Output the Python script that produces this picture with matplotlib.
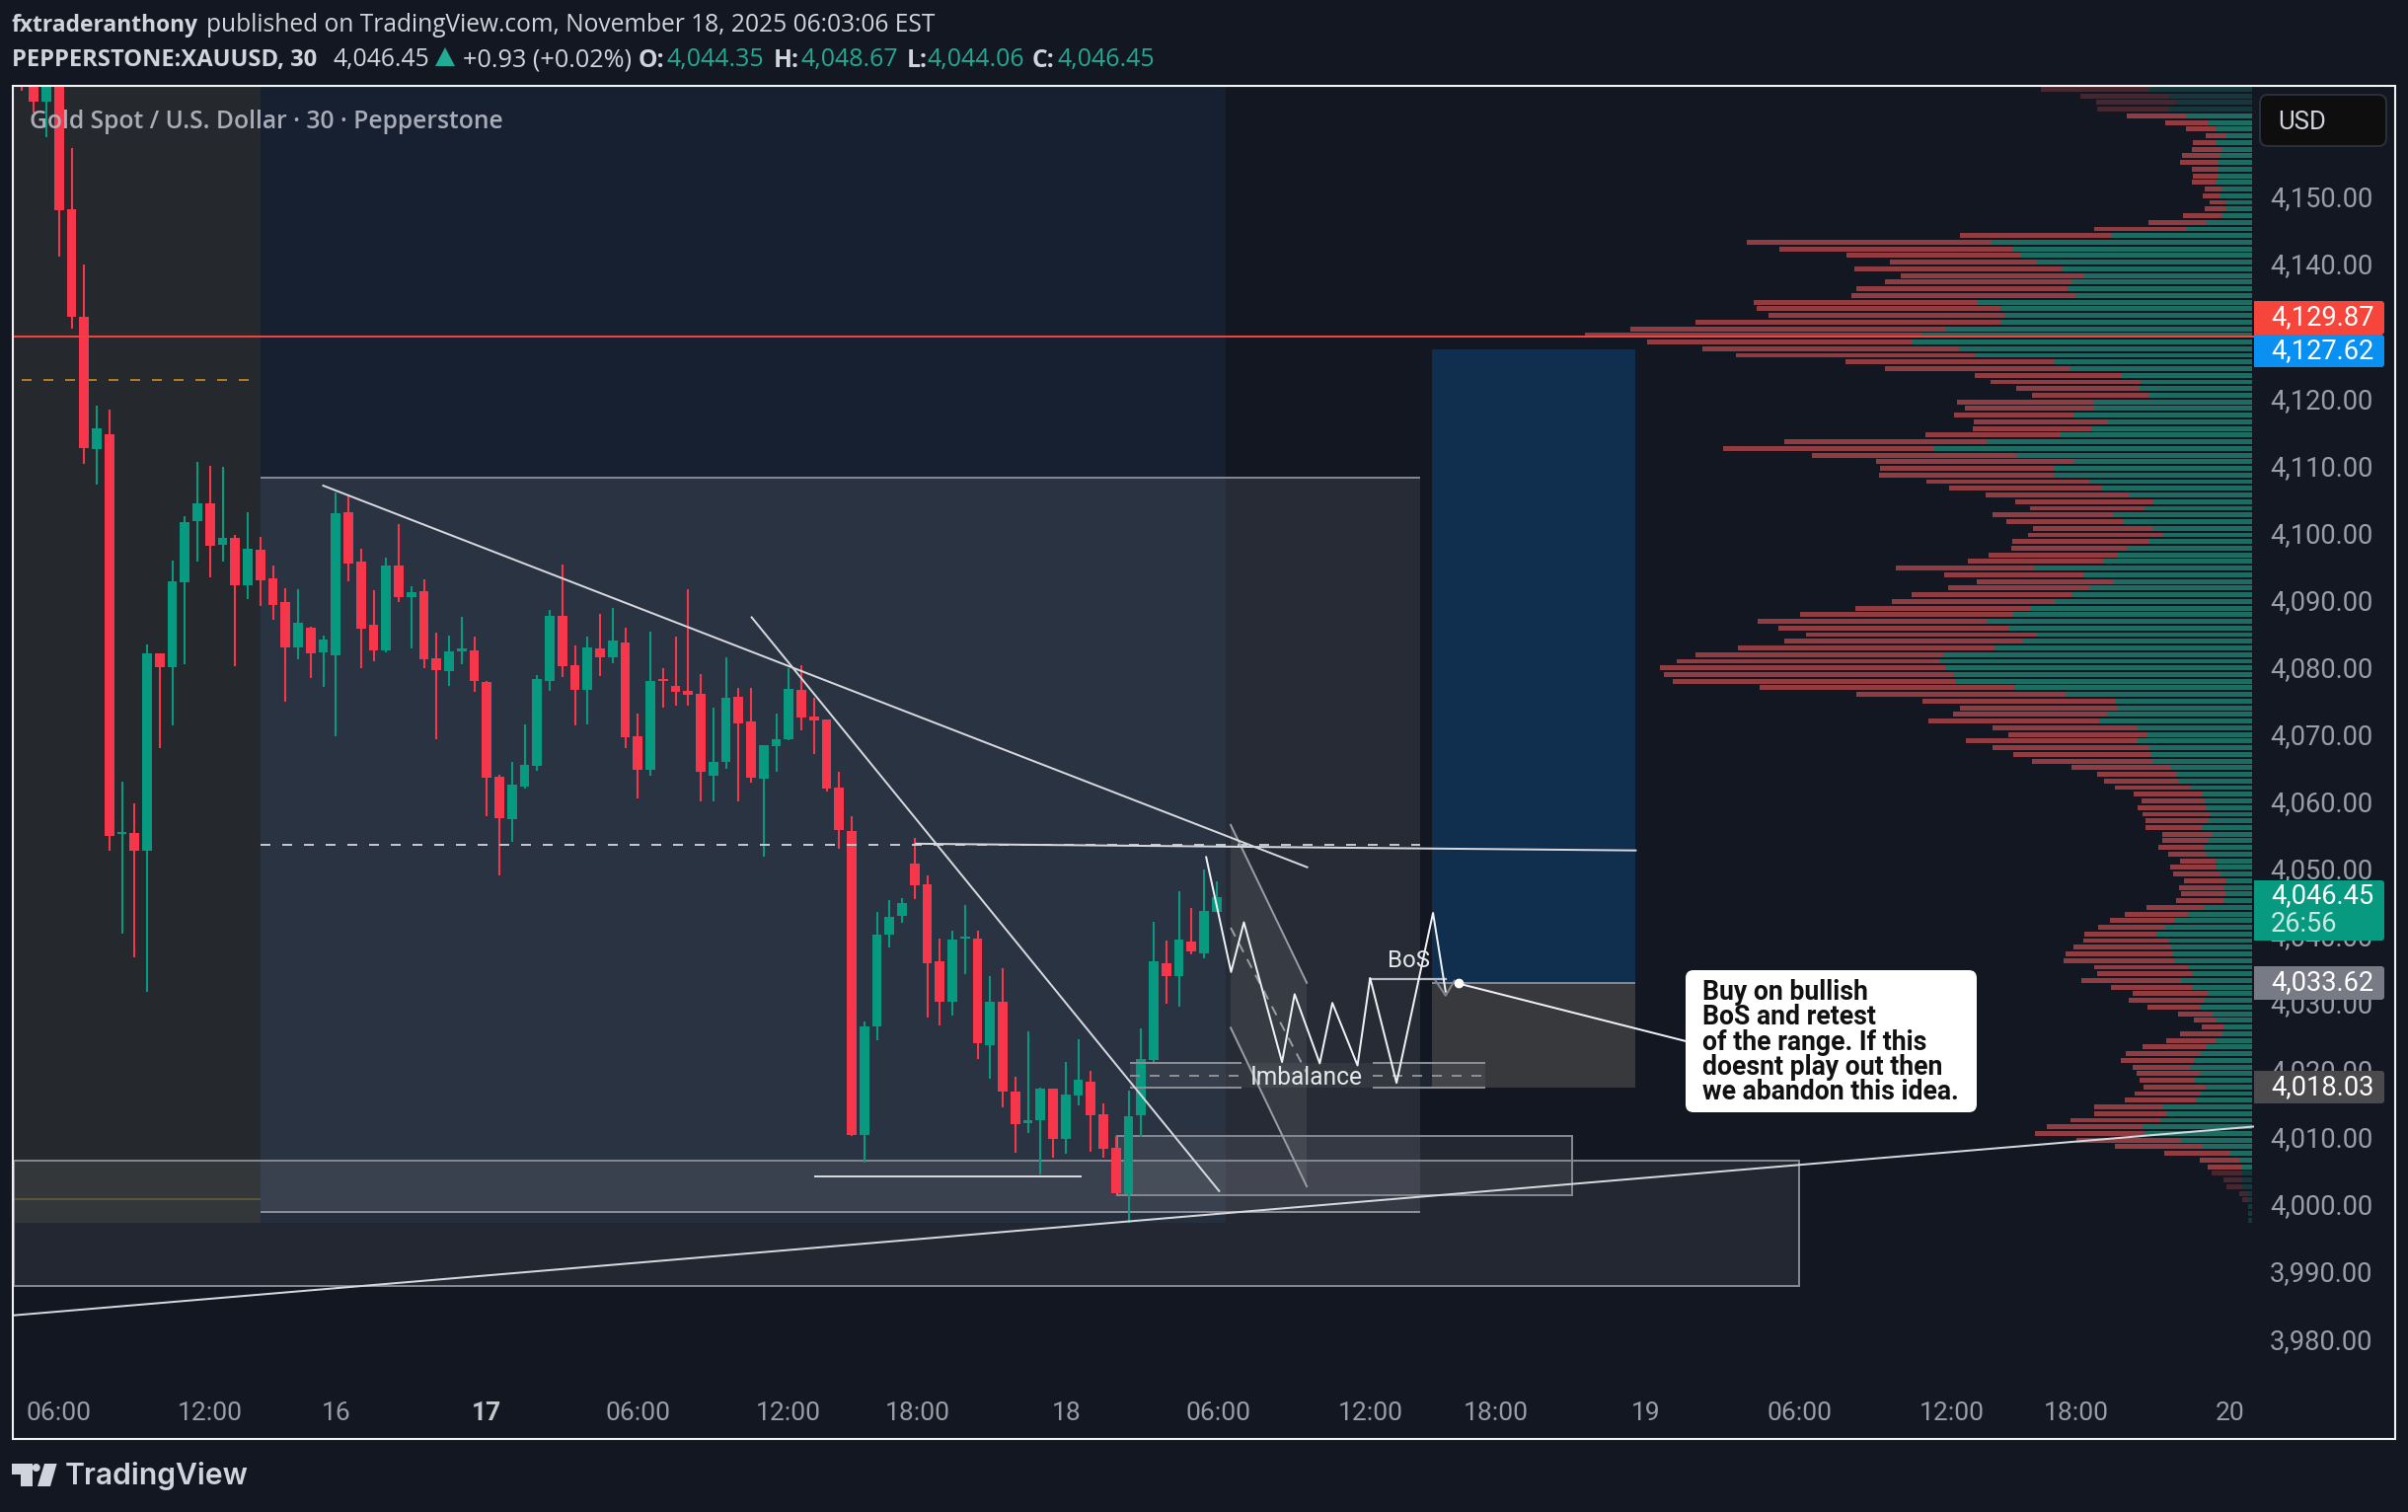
import matplotlib
matplotlib.use('Agg')
import matplotlib.pyplot as plt
from matplotlib.patches import Rectangle, Polygon, Circle, FancyBboxPatch
from matplotlib.transforms import ScaledTranslation
import numpy as np

plt.rcParams['font.family'] = ['Roboto', 'DejaVu Sans']

# 30 min candles, bar index on the x axis (TradingView skips the closed hours)
opens = [4172, 4170, 4164.5, 4170, 4148.5, 4132.4, 4112.7, 4114.9, 4055.4, 4055.6,
         4052.9, 4082.3, 4080.3, 4092.9, 4102, 4104.7, 4098.5, 4099.5, 4092.5, 4097.7,
         4093.5, 4090, 4083.2, 4086.1, 4082.5, 4082.1, 4103.4, 4096, 4086.6, 4082.8,
         4095.4, 4090.7, 4091.6, 4081.6, 4079.7, 4082.7, 4082.8, 4078.1, 4063.9, 4057.7,
         4062.5, 4065.6, 4078.2, 4087.9, 4080.6, 4076.9, 4083, 4081.8, 4083.9, 4070,
         4065, 4078.3, 4077.5, 4076.7, 4076.3, 4064.1, 4066.2, 4075.9, 4072.2, 4063.7,
         4068.5, 4069.6, 4076.9, 4073, 4072.5, 4062.3, 4055.9, 4010.6, 4026.8, 4040.5,
         4043.3, 4051, 4047.9, 4036.5, 4030.5, 4039.9, 4039.9, 4024, 4030.5, 4017.1,
         4012.4, 4012.9, 4017.6, 4010, 4016.5, 4018.6, 4013.7, 4008.7, 4001.8, 4013.6,
         4021.8, 4036.2, 4034.3, 4039.4, 4037.7, 4043.8]
highs = [4175, 4172, 4172, 4173, 4157.6, 4140.2, 4119.2, 4118.6, 4063.2, 4060,
         4083.7, 4082.3, 4096.2, 4102.8, 4110.8, 4110.2, 4110.1, 4100, 4103.4, 4099.7,
         4095.4, 4092, 4091.9, 4086.3, 4085, 4106.3, 4105.8, 4097.9, 4091.8, 4096.6,
         4101.6, 4092.3, 4093.3, 4085.4, 4085, 4087.8, 4084.8, 4078.2, 4064.3, 4066.2,
         4071.8, 4079.1, 4088.8, 4095.5, 4083.5, 4084.8, 4088.2, 4089.1, 4086.2, 4073.4,
         4085.6, 4080.1, 4084.9, 4091.9, 4079.2, 4074.2, 4081.8, 4077.2, 4077.2, 4068.7,
         4073.4, 4080.1, 4080.5, 4075.7, 4072.5, 4064.7, 4058.1, 4027.5, 4043.9, 4045.6,
         4045.9, 4054.9, 4049.3, 4039.9, 4041, 4044.9, 4041, 4034.3, 4035.5, 4019.3,
         4026.1, 4017.7, 4017.6, 4021.5, 4024.9, 4020.2, 4015.3, 4010.5, 4017.2, 4026.5,
         4042.4, 4039.6, 4046.9, 4044.5, 4050.2, 4048.4]
lows = [4166.1, 4162.9, 4159.2, 4141.4, 4130.6, 4110.5, 4107.5, 4052.9, 4040.6, 4037.1,
        4032, 4068.3, 4071.6, 4080.7, 4096, 4093.6, 4096, 4080.4, 4090.4, 4089.4,
        4087.3, 4075.1, 4081.5, 4078.6, 4077.3, 4070, 4093.1, 4080.1, 4081.2, 4082.5,
        4090, 4083, 4080.1, 4069.6, 4077.5, 4080.7, 4076.6, 4058.1, 4049.3, 4054.3,
        4062.2, 4064.8, 4076.8, 4078.8, 4071.6, 4071.8, 4078.9, 4080.8, 4068.2, 4060.7,
        4064.1, 4074.2, 4074.6, 4074.6, 4060.3, 4060.3, 4065.1, 4060.3, 4063.1, 4052,
        4064.7, 4069.4, 4070.9, 4067.3, 4061.8, 4053.3, 4010.5, 4006.6, 4024.7, 4038.6,
        4042.2, 4045.8, 4028.1, 4026.9, 4028.4, 4034.6, 4022, 4019, 4014.8, 4008,
        4011, 4004.7, 4007.2, 4007.9, 4015.1, 4008.1, 4007.2, 4002, 3997.5, 4010.3,
        4021.4, 4030.2, 4029.8, 4037.6, 4036.9, 4043.8]
closes = [4170, 4164.5, 4170, 4148.3, 4132.4, 4112.9, 4115.8, 4055.1, 4055.6, 4052.9,
          4082.3, 4080.3, 4093.1, 4101.9, 4104.7, 4098.4, 4099.5, 4092.5, 4097.9, 4093.2,
          4089.6, 4083.2, 4086.9, 4082.3, 4084.4, 4103.2, 4095.7, 4086, 4082.8, 4095.4,
          4090.7, 4091.4, 4081.5, 4079.8, 4082.6, 4083, 4078.2, 4063.8, 4057.8, 4062.8,
          4065.7, 4078.5, 4087.9, 4080.4, 4076.9, 4083.2, 4081.7, 4084.3, 4069.9, 4065,
          4078.2, 4078.2, 4076.6, 4076.1, 4064.7, 4066.2, 4075.7, 4071.9, 4063.8, 4068.7,
          4069.6, 4077, 4072.8, 4072.3, 4062.2, 4056, 4010.6, 4026.8, 4040.5, 4043.1,
          4045.2, 4047.8, 4036.2, 4030.5, 4039.7, 4040.1, 4024.3, 4030.5, 4017.1, 4012.3,
          4012.9, 4017.6, 4010, 4016.7, 4018.8, 4013.6, 4008.6, 4002, 4013.4, 4022,
          4036.5, 4034.3, 4039.7, 4038, 4044, 4046]

# volume profile rows, total length and the buy part, arbitrary units
profile_total = [441, 359, 326, 324, 262, 182, 138, 97, 124, 126, 146, 151, 126, 124, 126, 99, 103, 89, 99, 144,
                 217, 330, 611, 1056, 988, 848, 757, 831, 734, 767, 827, 838, 1042, 1036, 1011, 1164, 1300, 1395, 1265, 1149,
                 1079, 850, 767, 580, 547, 493, 460, 617, 600, 623, 582, 584, 683, 978, 1106, 920, 786, 778, 780, 681,
                 633, 557, 495, 464, 543, 514, 458, 468, 501, 503, 551, 594, 745, 644, 576, 635, 712, 753, 829, 945,
                 1034, 990, 933, 978, 1075, 1164, 1203, 1238, 1230, 1211, 1029, 827, 689, 611, 625, 677, 543, 510, 598, 543,
                 499, 460, 378, 324, 309, 287, 248, 231, 239, 229, 223, 223, 188, 188, 196, 175, 151, 171, 165, 142,
                 153, 149, 159, 221, 266, 297, 322, 351, 353, 373, 390, 394, 330, 324, 357, 295, 250, 258, 219, 155,
                 122, 105, 151, 179, 229, 264, 274, 250, 241, 235, 227, 245, 266, 330, 330, 380, 429, 454, 367, 287,
                 184, 109, 93, 85, 60, 54, 27, 21, 8, 8, 8]
profile_up = [214, 174, 158, 176, 138, 92, 76, 56, 74, 62, 66, 70, 70, 70, 76, 64, 68, 56, 56, 62,
              98, 136, 296, 546, 502, 482, 452, 398, 352, 378, 386, 370, 574, 526, 518, 526, 642, 689, 710, 612,
              580, 414, 382, 272, 234, 236, 216, 332, 330, 372, 302, 336, 402, 556, 664, 490, 374, 414, 414, 340,
              314, 258, 206, 224, 290, 268, 206, 188, 214, 262, 280, 312, 456, 352, 290, 338, 378, 412, 462, 500,
              552, 508, 450, 480, 538, 646, 652, 642, 626, 622, 498, 390, 286, 280, 304, 320, 242, 220, 240, 214,
              212, 206, 172, 156, 154, 130, 104, 99, 94, 88, 90, 104, 84, 90, 100, 94, 76, 74, 68, 56,
              60, 56, 58, 102, 134, 162, 182, 200, 174, 170, 166, 164, 134, 126, 148, 124, 90, 100, 110, 82,
              76, 60, 62, 76, 94, 108, 122, 130, 110, 120, 98, 108, 118, 188, 178, 190, 228, 224, 148, 106,
              48, 26, 20, 20, 20, 20, 8, 8, 8, 8, 8]
profile_top = 4166.3
profile_step = 0.99

price_ticks = list(range(3980, 4151, 10))
time_ticks = [3, 15, 25, 37, 49, 61, 71.2, 83.1, 95.1, 107.2, 117.2, 129.1, 141.3, 153.4, 163.3, 175.5]
time_labels = ['06:00', '12:00', '16', '17', '06:00', '12:00', '18:00', '18', '06:00', '12:00',
               '18:00', '19', '06:00', '12:00', '18:00', '20']

# drawings on the chart, (bar, price)
trend_down = [(24.0, 4107.3), (102.2, 4050.5)]
trend_steep = [(58.05, 4087.7), (95.2, 4002.3)]
trend_flat = [(71.1, 4054.0), (128.3, 4053.0)]
trend_up = [(-0.6, 3983.8), (177.45, 4011.9)]
low_line = [(63.07, 4004.5), (84.2, 4004.5)]
zigzag_bars = [94.17, 96.15, 97.17, 100.2, 101.2, 103.2, 104.2, 106.2, 107.2, 109.3, 112.2, 113.2]
zigzag_prices = [4052.0, 4034.9, 4042.3, 4021.5, 4031.6, 4021.3, 4030.3, 4021.0, 4034.0, 4018.4, 4043.7, 4032.0]

bg = '#121722'
red = '#f6364b'
green = '#089981'
line_col = '#d6d8de'
box_edge = '#83868f'
n = len(opens)

fig = plt.figure(figsize=(24.4, 15.32), dpi=100, facecolor=bg)
ax2 = fig.add_axes([14 / 2440, 1 - 1408 / 1532, 2270 / 2440, 1320 / 1532])
ax = ax2.twiny()
ax.set_zorder(1)
ax2.set_zorder(0)
ax.patch.set_visible(False)
ax2.set_facecolor(bg)

bars = np.arange(n)
ax.set_xlim(-0.59, 177.45)
ax2.set_ylim(3972.74, 4166.66)
ax2.set_xlim(4679, -4.1)

# background zones
ax.add_patch(Rectangle((-0.59, 3997.6), 19.57, 180, color='#25282c', lw=0, zorder=1))
ax.add_patch(Rectangle((18.98, 3997.6), 76.75, 180, color='#162030', lw=0, zorder=1))
ax.add_patch(Rectangle((18.98, 3999.2), 92.2, 109.3, facecolor='white', alpha=0.085, lw=0, zorder=1.2))
ax.hlines([4108.5, 3999.2], 18.98, 111.18, color=box_edge, lw=1.44, zorder=1.3)
ax.add_patch(Rectangle((112.12, 4033.3), 16.18, 94.3, color='#102e4d', lw=0, zorder=1.2))
ax.add_patch(Rectangle((112.12, 4017.7), 16.18, 15.6, color='#38393d', lw=0, zorder=1.2))
ax.hlines(4033.3, 112.12, 128.3, color=box_edge, lw=1.44, zorder=1.3)
ax.hlines(4001.1, -0.59, 18.98, color='#4d4a2c', lw=1.44, zorder=1.3)
ax.hlines(4123.0, 0, 18.98, color='#b27a1d', lw=1.44, linestyles=(0, (5, 6)), zorder=1.3)

for x0, p0, x1, p1 in [(-0.59, 3988.2, 141.3, 4006.8), (87.1, 4001.7, 123.25, 4010.5)]:
    ax.add_patch(Rectangle((x0, p0), x1 - x0, p1 - p0, facecolor='white', alpha=0.07, lw=0, zorder=1.4))
    ax.add_patch(Rectangle((x0, p0), x1 - x0, p1 - p0, fill=False, edgecolor=box_edge, lw=1.44, zorder=1.5))

ax.add_patch(Polygon([(96.12, 4056.8), (102.16, 4033.3), (102.16, 4003.0), (96.12, 4026.6)],
                     facecolor='white', alpha=0.08, lw=0, zorder=1.4))
ax.plot([96.12, 102.16], [4056.8, 4033.3], color='#9a9ca3', lw=1.44, zorder=4)
ax.plot([96.12, 102.16], [4026.6, 4003.0], color='#9a9ca3', lw=1.44, zorder=4)
ax.plot([96.12, 102.16], [4041.5, 4019.9], color='#9a9ca3', lw=1.44, ls=(0, (5, 4)), zorder=4)

ax.add_patch(Rectangle((88.12, 4017.7), 28.23, 3.7, facecolor='white', alpha=0.06, lw=0, zorder=1.4))
for seg in [(88.12, 97.0), (107.4, 116.35)]:
    ax.hlines([4021.4, 4017.7], seg[0], seg[1], color='#8c8e95', lw=1.44, zorder=4)
    ax.hlines(4019.4, seg[0], seg[1], color='#8c8e95', lw=1.44, linestyles=(0, (5, 5)), zorder=4)

# volume profile
row_prices = profile_top - profile_step * np.arange(len(profile_total))
up = np.array(profile_up)
down = np.array(profile_total) - up
up_cols = ['#16383c' if k < 4 or k >= 163 else '#1d6c62' for k in range(len(up))]
down_cols = ['#48262f' if k < 4 or k >= 163 else '#913c40' for k in range(len(up))]
ax2.barh(row_prices, up, height=0.72, color=up_cols)
ax2.barh(row_prices, down, left=up, height=0.72, color=down_cols)

# candles
cols = [green if c >= o else red for o, c in zip(opens, closes)]
ax.vlines(bars, lows, highs, colors=cols, lw=1.5, zorder=3)
body_low = np.minimum(opens, closes)
body_h = np.maximum(np.abs(np.array(closes) - np.array(opens)), 0.3)
ax.bar(bars, body_h, bottom=body_low, width=0.78, color=cols, lw=0, zorder=3.1)

# lines over the candles
ax.hlines(4129.5, -0.59, 177.45, color='#f0433c', lw=1.5, zorder=3.5)
ax.hlines(4053.8, 18.98, 111.18, color='#c3c5cb', lw=1.44, linestyles=(0, (5, 6)), zorder=3.5)
for seg in [trend_down, trend_steep, trend_flat, trend_up, low_line]:
    ax.plot([seg[0][0], seg[1][0]], [seg[0][1], seg[1][1]], color=line_col, lw=1.44, zorder=4)
ax.plot(zigzag_bars, zigzag_prices, color='#eef0f4', lw=1.44, zorder=4.2)
ax.plot([107.2, 113.2], [4033.9, 4033.9], color='#b9bbc2', lw=1.6, zorder=4.1)
ax.plot([112.4, 113.2, 113.9], [4033.6, 4031.4, 4033.6], color='#85878d', lw=1.44, zorder=4.1)
ax.plot([114.2, 132.3], [4033.2, 4024.6], color='#eef0f4', lw=1.44, zorder=4.2)
ax.plot([114.2], [4033.2], 'o', color='white', ms=6, zorder=4.3)
ax.text(102.15, 4019.2, 'Imbalance', color='#e6e7ea', fontsize=17.7, ha='center', va='center', zorder=5)
ax.text(110.25, 4036.5, 'BoS', color='#e6e7ea', fontsize=17.3, ha='center', va='center', zorder=5)

# axes
ax2.yaxis.set_visible(True)
ax2.yaxis.tick_right()
ax2.set_yticks(price_ticks)
ax2.set_yticklabels([f'{p:,.2f}' for p in price_ticks], color='#9a9da6', fontsize=19.6)
ax2.tick_params(axis='y', length=0, pad=11.5)
lift = ScaledTranslation(0, 2.5 / 100, fig.dpi_scale_trans)
for lab in ax2.get_yticklabels():
    lab.set_transform(lab.get_transform() + lift)
ax2.xaxis.set_visible(False)
ax.xaxis.tick_bottom()
ax.set_xticks(time_ticks)
ax.set_xticklabels(time_labels, color='#9a9da6', fontsize=19)
ax.get_xticklabels()[3].set_fontweight('bold')
ax.get_xticklabels()[3].set_color('#c4c6cc')
ax.tick_params(axis='x', length=0, pad=8.8)
for a in [ax, ax2]:
    for s in a.spines.values():
        s.set_visible(False)

# page furniture in pixel coordinates
ov = fig.add_axes([0, 0, 1, 1], zorder=5)
ov.set_xlim(0, 2440)
ov.set_ylim(1532, 0)
ov.axis('off')
ov.add_patch(Rectangle((13, 87), 2414, 1371, fill=False, edgecolor='#f2f2f2', lw=1.5))

head = '#d1d4dc'
teal = '#22ab94'
ov.text(12, 26, 'fxtraderanthony', color=head, fontweight='bold', family='Open Sans', fontsize=16.4, va='center')
ov.text(209, 26, 'published on TradingView.com, November 18, 2025 06:03:06 EST', color=head,
        family='Open Sans', fontsize=17.65, va='center')
ov.text(12, 61, 'PEPPERSTONE:XAUUSD, 30', color=head, fontweight='bold', family='Open Sans', fontsize=17.1, va='center')
ov.text(337, 61, '4,046.45', color=head, family='Open Sans', fontsize=17.8, va='center')
ov.add_patch(Polygon([(441, 67), (461, 67), (451, 48)], color=teal, lw=0))
ov.text(469, 61, '+0.93 (+0.02%)', color=head, family='Open Sans', fontsize=18.2, va='center')
for x, lab, x_val, val in [(647, 'O:', 676, '4,044.35'), (784, 'H:', 811, '4,048.67'),
                           (919, 'L:', 939, '4,044.06'), (1046, 'C:', 1071, '4,046.45')]:
    ov.text(x, 61, lab, color=head, fontweight='bold', family='Open Sans', fontsize=17.8, va='center')
    ov.text(x_val, 61, val, color=teal, family='Open Sans', fontsize=18, va='center')

ov.text(30, 123, 'Gold Spot / U.S. Dollar · 30 · Pepperstone', color='#b2b5be', family='Open Sans',
        fontweight='semibold', fontsize=17.7, va='center', alpha=0.95)

ov.add_patch(FancyBboxPatch((2293, 99), 122, 46, boxstyle='round,pad=3,rounding_size=8',
                            facecolor='#0e0e0e', edgecolor='#2a2e39', lw=1.5))
ov.text(2308, 124, 'USD', color=head, fontsize=18.5, va='center')

# price tags, square on the axis side and slightly round on the other
tag_x = 2284
tag_w = 132
for y0, y1, col, txt in [(892, 953, green, None), (979, 1013, '#787b86', '4,033.62'),
                         (1085, 1118, '#4a4a4c', '4,018.03'), (305, 339, '#f6453a', '4,129.87'),
                         (339, 372, '#0990f0', '4,127.62')]:
    ov.add_patch(FancyBboxPatch((tag_x + 3, y0 + 3), tag_w - 6, y1 - y0 - 6, boxstyle='round,pad=3,rounding_size=3',
                                color=col, lw=0))
    ov.add_patch(Rectangle((tag_x, y0), 12, y1 - y0, color=col, lw=0))
    if txt:
        ov.text(2301, (y0 + y1) / 2, txt, color='white', fontsize=19.6, va='center')
ov.text(2301, 908, '4,046.45', color='white', fontsize=19.6, va='center')
ov.text(2301, 936, '26:56', color='#c6e9e2', fontsize=19.6, va='center')

# callout
ov.add_patch(FancyBboxPatch((1712, 987), 287, 136, boxstyle='round,pad=4,rounding_size=8',
                            facecolor='white', edgecolor='none'))
ov.text(1724.6, 1056, 'Buy on bullish\nBoS and retest\nof the range. If this\ndoesnt play out then\nwe abandon this idea.',
        color='#111111', fontsize=19.2, fontweight='bold', va='center', linespacing=0.92)

# logo
logo = '#d1d4dc'
ov.add_patch(Polygon([(12, 1483), (32.6, 1483), (32.6, 1506), (21, 1506), (21, 1494), (12, 1494)], color=logo, lw=0))
ov.add_patch(Circle((36.7, 1487), 4, color=logo, lw=0))
ov.add_patch(Polygon([(45, 1483), (57.6, 1483), (51, 1506), (38, 1506)], color=logo, lw=0))
ov.text(66, 1496, 'TradingView', color=logo, family='Inter', fontweight='semibold', fontsize=21.7, va='center')

fig.savefig('out.png', dpi=100, facecolor=bg)
